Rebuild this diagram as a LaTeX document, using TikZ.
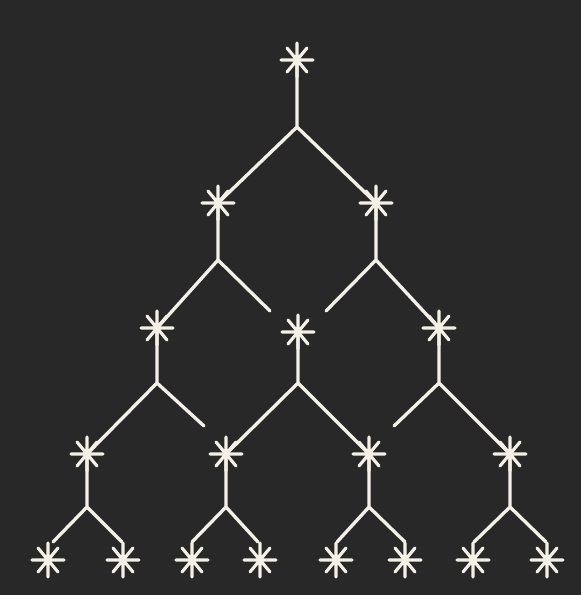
\documentclass[tikz,border=0pt]{standalone}
\usetikzlibrary{calc}
\definecolor{bg}{HTML}{282828}
\definecolor{ink}{HTML}{F3F0E6}
\tikzset{
    twig/.style = {
        draw=ink, line width=1.9pt, line cap=round
    },
    spark/.pic = {
        \draw[ink, line width=1.8pt, line cap=round]
            (-16,0) -- (16,0) (0,-17) -- (0,17)
            (-10,-12) -- (10,12) (-10,12) -- (10,-12);
    }
}
\newcommand{\spk}[2]{\coordinate (#1) at (#2);}

\begin{document}
\begin{tikzpicture}[x=0.02cm, y=-0.02cm]

% 1. canvas
\fill[bg] (0,0) rectangle (581,595);

% 2. stars and forks
\spk{a}{297,60}   \coordinate (fa) at (297,127);
\spk{b1}{218,203} \coordinate (fb1) at (218,260);
\spk{b2}{376,203} \coordinate (fb2) at (376,260);
\spk{c1}{157,328} \coordinate (fc1) at (157,383);
\spk{c2}{298,332} \coordinate (fc2) at (298,383);
\spk{c3}{439,328} \coordinate (fc3) at (439,383);
\spk{d1}{87,454}  \coordinate (fd1) at (87,507);
\spk{d2}{226,454} \coordinate (fd2) at (226,507);
\spk{d3}{369,454} \coordinate (fd3) at (369,507);
\spk{d4}{510,454} \coordinate (fd4) at (510,507);

% loose ends
\coordinate (xb1) at (270,311); \coordinate (xb2) at (326,311);
\coordinate (xc1) at (204,426); \coordinate (xc3) at (394,426);

% leaves -- line tips stop above each star
\foreach \n/\x/\t in {1/48/53, 2/123/122, 3/192/192, 4/260/258,
                      5/336/337, 6/405/405, 7/473/474, 8/547/546} {
    \spk{l\n}{\x,560}
    \coordinate (t\n) at (\t,542);
}

% 3. branches
\draw[twig] (a) -- (fa) (fa) -- (b1) (fa) -- (b2);
\draw[twig] (b1) -- (fb1) (fb1) -- (c1) (fb1) -- (xb1);
\draw[twig] (b2) -- (fb2) (fb2) -- (xb2) (fb2) -- (c3);
\draw[twig] (c1) -- (fc1) (fc1) -- (d1) (fc1) -- (xc1);
\draw[twig] (c2) -- (fc2) (fc2) -- (d2) (fc2) -- (d3);
\draw[twig] (c3) -- (fc3) (fc3) -- (xc3) (fc3) -- (d4);
\draw[twig] (d1) -- (fd1) (fd1) -- (t1) (fd1) -- (t2);
\draw[twig] (d2) -- (fd2) (fd2) -- (t3) (fd2) -- (t4);
\draw[twig] (d3) -- (fd3) (fd3) -- (t5) (fd3) -- (t6);
\draw[twig] (d4) -- (fd4) (fd4) -- (t7) (fd4) -- (t8);

% 4. sparks on top
\foreach \s in {a,b1,b2,c1,c2,c3,d1,d2,d3,d4,l1,l2,l3,l4,l5,l6,l7,l8}
    \pic at (\s) {spark};

\end{tikzpicture}
\end{document}
